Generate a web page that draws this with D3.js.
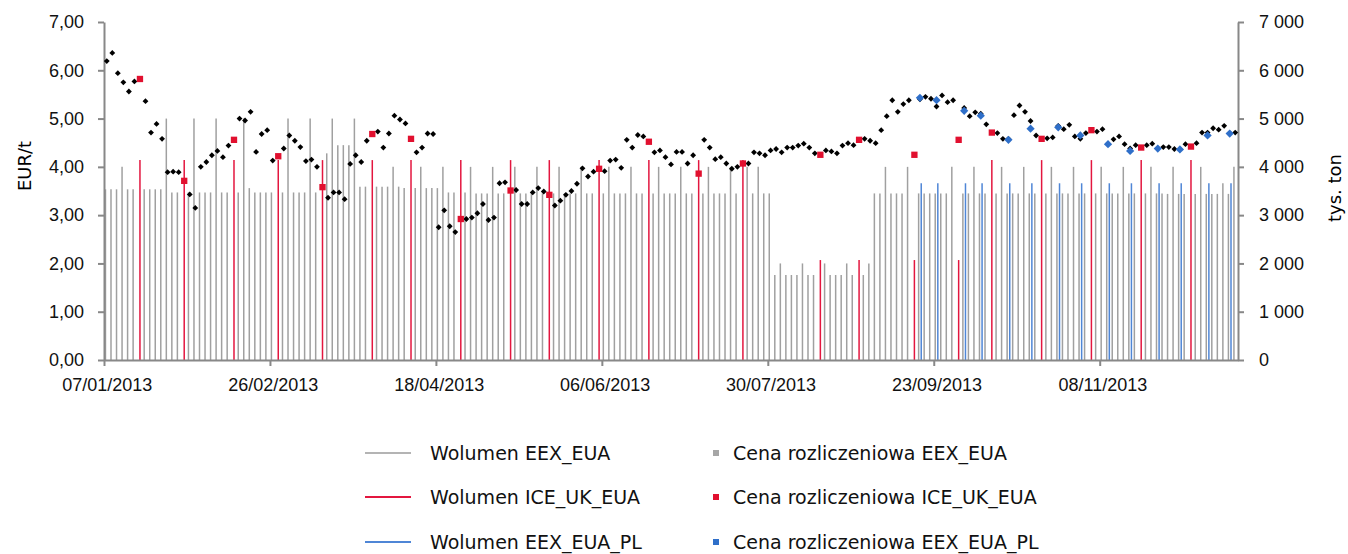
<!DOCTYPE html>
<meta charset="utf-8">
<style>
body { margin: 0; background: #fff; }
svg { font-family: "DejaVu Sans", Verdana, sans-serif; }
.axis path, .axis line { stroke: #888; stroke-width: 2px; }
.axis text { font-size: 18px; fill: #111; }
.legend text { font-size: 19px; fill: #111; }
</style>
<svg width="1348" height="554"></svg>
<script src="https://d3js.org/d3.v7.min.js"></script>
<script>

// category axis: auction sessions, labelled every 30 sessions
var labelEvery = 30;
var tickLabels = ["07/01/2013", "26/02/2013", "18/04/2013", "06/06/2013", "30/07/2013", "23/09/2013", "08/11/2013"];

// EEX_EUA settlement price (EUR/t), null where no EEX session
var priceEEX = [6.19,6.36,5.94,5.75,5.56,5.77,null,5.36,4.71,4.89,4.58,3.89,3.90,3.89,null,3.43,3.15,4.00,4.10,4.24,
  4.33,4.20,4.44,null,5.00,4.96,5.14,4.31,4.68,4.76,4.13,null,4.38,4.65,4.54,4.41,4.12,4.15,4.00,null,
  3.36,3.47,3.47,3.33,4.06,4.24,4.10,4.54,null,4.73,4.40,4.69,5.06,4.98,4.90,null,4.30,4.40,4.69,4.68,
  2.75,3.10,2.77,2.65,null,2.92,2.95,3.04,3.23,2.90,2.95,3.66,3.68,null,3.52,3.23,3.23,3.47,3.56,3.49,
  null,3.20,3.30,3.42,3.50,3.65,3.97,3.80,3.90,null,3.91,4.13,4.15,3.98,4.56,4.40,4.66,4.63,null,4.30,
  4.34,4.20,4.05,4.31,4.31,4.07,4.24,null,4.56,4.40,4.16,4.20,4.07,3.96,4.00,null,4.07,4.30,4.28,4.24,
  4.34,4.37,4.30,4.40,4.40,4.44,4.48,4.40,4.28,null,4.34,4.32,4.28,4.44,4.49,4.45,null,4.58,4.54,4.49,
  4.76,5.05,5.38,5.14,5.30,5.38,null,5.40,5.45,5.41,5.25,5.48,5.34,5.38,null,5.22,5.05,5.13,5.10,4.88,
  null,4.70,4.58,4.58,5.07,5.27,5.14,4.95,4.65,null,4.59,4.61,4.85,4.78,4.87,4.63,4.58,4.70,null,4.73,
  4.78,4.47,4.57,4.63,4.47,4.38,4.45,null,4.45,4.48,4.38,4.41,4.41,4.37,4.36,4.47,null,4.49,4.71,4.71,
  4.80,4.77,4.85,4.70,4.71];

// EEX_EUA volume (thousand t)
var volEEX = [3535,3535,3535,4000,3535,3535,null,3535,3535,3535,3535,5000,3470,3470,null,3470,5000,3470,3470,3470,
  5000,3470,3470,null,3470,5000,3560,3470,3470,3470,3470,null,3470,5000,3470,3470,3470,5000,3470,null,
  4280,5000,4450,4450,4450,5000,3590,3590,null,3590,3590,3590,4000,3590,3560,null,3560,4000,3560,3560,
  3560,4000,3470,3470,null,3470,4000,3450,3450,3450,4000,3450,3450,null,4000,3450,3450,3450,4000,3450,
  null,3450,4000,3450,3450,3450,4000,3450,3450,null,3450,4000,3450,3450,3450,4000,3450,3450,null,3450,
  4000,3450,3450,3450,4000,3450,3450,null,3450,4000,3450,3450,3450,4000,3450,null,4000,3450,4000,3450,
  3450,1760,2000,1760,1760,1760,2000,1760,1760,null,2000,1760,1760,1760,2000,1760,null,1760,2000,3450,
  3450,4000,3450,3450,3450,4000,null,3450,3450,3450,3450,3450,3450,4000,null,3450,3450,4000,3450,3450,
  null,3450,4000,3450,3450,3450,4000,3450,3450,null,3450,4000,3450,3450,3450,4000,3450,3450,null,3450,
  4000,3450,3450,3450,4000,3450,3450,null,3450,4000,3450,3450,3440,4000,3440,3440,null,3440,4000,3440,
  3440,3440,3660,3440,4000];

// ICE_UK_EUA sessions: index, volume (thousand t), price (EUR/t)
var iceIndex = [6,14,23,31,39,48,55,64,73,80,89,98,107,115,129,136,146,154,160,169,178,187,196];
var iceVolume = [4140,4140,4140,4140,4140,4140,4140,4140,4140,4140,4140,4140,4140,4140,2070,2070,2070,2070,4140,4140,4140,4140,4140];
var icePrice = [5.82,3.71,4.56,4.22,3.58,4.68,4.58,2.92,3.51,3.42,3.96,4.52,3.86,4.07,4.25,4.56,4.25,4.56,4.71,4.58,4.76,4.40,4.42];

// EEX_EUA_PL sessions
var plIndex = [147,150,155,158,163,167,172,176,181,185,190,194,199,203];
var plVolume = [3660,3660,3660,3660,3660,3660,3660,3660,3660,3660,3660,3660,3660,3660];
var plPrice = [5.43,5.38,5.16,5.06,4.56,4.79,4.82,4.65,4.47,4.33,4.38,4.36,4.65,4.69];

var svg = d3.select("svg");
var N = priceEEX.length;
var mLeft = 104, mRight = 1238, mTop = 22, mBottom = 360;

var x = d3.scaleBand().domain(d3.range(N)).range([mLeft, mRight]);
var xl = d3.scaleLinear().domain([0, N]).range([mLeft, mRight]);
var yP = d3.scaleLinear().domain([0, 7]).range([mBottom, mTop]);
var yV = d3.scaleLinear().domain([0, 7000]).range([mBottom, mTop]);

function cx(i, off) { return x(i) + x.bandwidth() / 2 + off; }

var eex = d3.range(N).map(function(i) { return {i: i, v: volEEX[i], p: priceEEX[i]}; });
var ice = iceIndex.map(function(d, k) { return {i: d, v: iceVolume[k], p: icePrice[k]}; });
var pl = plIndex.map(function(d, k) { return {i: d, v: plVolume[k], p: plPrice[k]}; });

// volume bars
function bars(data, off, color) {
  svg.append("g").selectAll("line")
    .data(data.filter(function(d) { return d.v != null; }))
    .enter().append("line")
      .attr("x1", function(d) { return cx(d.i, off); })
      .attr("x2", function(d) { return cx(d.i, off); })
      .attr("y1", yV(0))
      .attr("y2", function(d) { return yV(d.v); })
      .attr("stroke", color)
      .attr("stroke-width", 1.5);
}
bars(eex, -1.3, "#a0a0a0");
bars(ice, 0, "#e3163f");
bars(pl, 1.3, "#4f86d6");

// axes
var comma2 = function(d) { return d.toFixed(2).replace(".", ","); };
var loc = d3.formatLocale({decimal: ",", thousands: "\u00a0", grouping: [3], currency: ["", ""]});

svg.append("g").attr("class", "axis")
    .attr("transform", "translate(" + mLeft + ",0)")
    .call(d3.axisLeft(yP).tickValues(d3.range(0, 8)).tickFormat(comma2).tickSize(6).tickSizeOuter(0).tickPadding(14));
svg.append("g").attr("class", "axis")
    .attr("transform", "translate(" + mRight + ",0)")
    .call(d3.axisRight(yV).tickValues(d3.range(0, 8000, 1000)).tickFormat(loc.format(",d")).tickSize(6).tickSizeOuter(0).tickPadding(15));
var gb = svg.append("g").attr("class", "axis")
    .attr("transform", "translate(0," + mBottom + ")")
    .call(d3.axisBottom(xl).tickValues(d3.range(0, tickLabels.length).map(function(k) { return k * labelEvery; }))
      .tickFormat(function(d) { return tickLabels[d / labelEvery]; }).tickSize(6).tickSizeOuter(0).tickPadding(12));
gb.selectAll("text").attr("dx", x.bandwidth() / 2);

svg.append("text").attr("transform", "translate(31,166) rotate(-90)")
    .attr("text-anchor", "middle").style("font-size", "18px").text("EUR/t");
svg.append("text").attr("transform", "translate(1341,188) rotate(-90)")
    .attr("text-anchor", "middle").style("font-size", "18px").text("tys. ton");

// price markers
svg.append("g").selectAll("path")
  .data(eex.filter(function(d) { return d.p != null; }))
  .enter().append("path")
    .attr("d", d3.symbol().type(d3.symbolSquare).size(17))
    .attr("transform", function(d) { return "translate(" + cx(d.i, 0) + "," + yP(d.p) + ") rotate(45)"; })
    .attr("fill", "#000");
svg.append("g").selectAll("path")
  .data(ice)
  .enter().append("path")
    .attr("d", d3.symbol().type(d3.symbolSquare).size(40))
    .attr("transform", function(d) { return "translate(" + cx(d.i, 0) + "," + yP(d.p) + ")"; })
    .attr("fill", "#e1102f");
svg.append("g").selectAll("path")
  .data(pl)
  .enter().append("path")
    .attr("d", d3.symbol().type(d3.symbolSquare).size(34))
    .attr("transform", function(d) { return "translate(" + cx(d.i, 0) + "," + yP(d.p) + ") rotate(45)"; })
    .attr("fill", "#2f6fc9");

// legend
var legendLines = [["Wolumen EEX_EUA", "#b4b4b4"], ["Wolumen ICE_UK_EUA", "#e3163f"], ["Wolumen EEX_EUA_PL", "#4f86d6"]];
var legendDots = [["Cena rozliczeniowa EEX_EUA", "#a6a6a6"], ["Cena rozliczeniowa ICE_UK_EUA", "#e1102f"], ["Cena rozliczeniowa EEX_EUA_PL", "#2f6fc9"]];
var rowY = [453, 497, 542];

var lg = svg.append("g").attr("class", "legend");
legendLines.forEach(function(d, k) {
  lg.append("line").attr("x1", 365).attr("x2", 411).attr("y1", rowY[k]).attr("y2", rowY[k])
    .attr("stroke", d[1]).attr("stroke-width", 2);
  lg.append("text").attr("x", 430).attr("y", rowY[k] + 7).text(d[0]);
});
legendDots.forEach(function(d, k) {
  lg.append("rect").attr("x", 713).attr("y", rowY[k] - 3).attr("width", 6).attr("height", 6).attr("fill", d[1]);
  lg.append("text").attr("x", 733).attr("y", rowY[k] + 7).text(d[0]);
});

</script>
